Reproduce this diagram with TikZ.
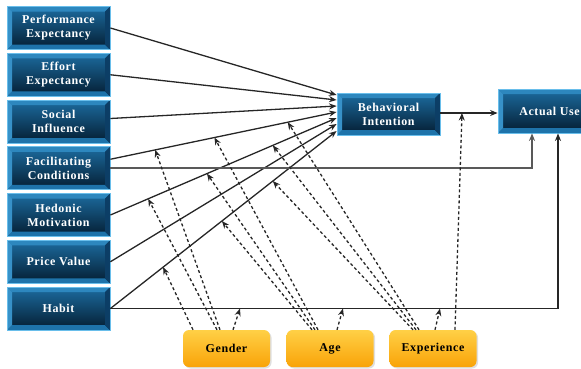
\documentclass[tikz,border=0pt]{standalone}
\usepackage{fontspec}
\setmainfont{Liberation Serif}
\newfontfamily\boxfont[LetterSpace=5]{Liberation Serif}
\usetikzlibrary{positioning}
\usetikzlibrary{arrows.meta,shadows}
\usetikzlibrary{calc}

\definecolor{facetop}{RGB}{28,108,160}
\definecolor{facebot}{RGB}{4,28,48}
\definecolor{bevtop}{RGB}{45,135,190}
\definecolor{bevbot}{RGB}{30,115,170}
\definecolor{bevleft}{RGB}{55,145,200}
\definecolor{bevright}{RGB}{12,62,102}
\definecolor{rimblue}{RGB}{105,190,235}
\definecolor{modtop}{RGB}{255,208,70}
\definecolor{modbot}{RGB}{249,163,8}

\tikzset{
  bevel/.style={path picture={
    \coordinate (nw) at (path picture bounding box.north west);
    \coordinate (ne) at (path picture bounding box.north east);
    \coordinate (sw) at (path picture bounding box.south west);
    \coordinate (se) at (path picture bounding box.south east);
    \fill[bevtop] (nw) -- (ne) -- ([shift={(-5pt,-5pt)}]ne) -- ([shift={(5pt,-5pt)}]nw) -- cycle;
    \fill[bevbot] (sw) -- (se) -- ([shift={(-5pt,5pt)}]se) -- ([shift={(5pt,5pt)}]sw) -- cycle;
    \fill[bevleft] (nw) -- (sw) -- ([shift={(5pt,5pt)}]sw) -- ([shift={(5pt,-5pt)}]nw) -- cycle;
    \fill[bevright] (ne) -- (se) -- ([shift={(-5pt,5pt)}]se) -- ([shift={(-5pt,-5pt)}]ne) -- cycle;
  }},
  construct/.style={bevel, draw=rimblue, line width=0.8pt, top color=facetop, bottom color=facebot,
    minimum width=103pt, minimum height=43pt, inner sep=0pt, align=center, text=white,
    font={\boxfont\bfseries\fontsize{12}{14}\selectfont}},
  moderator/.style={rounded corners=6pt, top color=modtop, bottom color=modbot,
    minimum width=87pt, minimum height=37pt, inner sep=0pt,
    drop shadow={opacity=0.25, shadow xshift=1.5pt, shadow yshift=-1.5pt},
    font={\boxfont\bfseries\fontsize{12}{14}\selectfont}},
  link/.style={->, line width=1.3pt, black!85},
  mod/.style={->, line width=1.3pt, black!85, dash pattern=on 3pt off 2.5pt}
}

\begin{document}
\begin{tikzpicture}[x=1pt, y=-1pt, >={Stealth[length=7.5pt,width=6pt]}]
  \useasboundingbox (0,0) rectangle (581,368);
  \clip (0,0) rectangle (581,368);

 %constructs
    \def\dy{46.75};
    \foreach \i/\name/\txt in {0/pe/{Performance\\Expectancy}, 1/ee/{Effort\\Expectancy}, 2/si/{Social\\Influence}, 3/fc/{Facilitating\\Conditions}, 4/hm/{Hedonic\\Motivation}, 5/pv/{Price Value}, 6/ht/{Habit}} {
         \node[construct] (\name) at (58.5, 28+\i*\dy) {\txt};
    }
    \node[construct, minimum height=42pt] (bi) at (388.5,114) {Behavioral\\Intention};
    \node[construct, minimum height=44pt] (au) at (549.5,111) {Actual Use};

 %moderators
    \node[moderator] (gender) at (226.5,348.5) {Gender};
    \node[moderator] (age) at (330,348.5) {Age};
    \node[moderator] (exp) at (433,348.5) {Experience};

 %paths to BI
    \draw[link] (pe.east) -- ([yshift=19pt]bi.west);
    \draw[link] (ee.east) -- ([yshift=14pt]bi.west);
    \draw[link] ([yshift=3pt]si.east) -- ([yshift=8pt]bi.west);
    \draw[link] ([yshift=9pt]fc.east) -- coordinate[pos=0.198] (fcG) coordinate[pos=0.46] (fcA) coordinate[pos=0.784] (fcE) ([yshift=2pt]bi.west);
    \draw[link] (hm.east) -- coordinate[pos=0.167] (hmG) coordinate[pos=0.427] (hmA) coordinate[pos=0.718] (hmE) ([yshift=-4pt]bi.west);
    \draw[link] (pv.east) -- ([yshift=-10pt]bi.west);
    \draw[link] (ht.east) -- coordinate[pos=0.233] (htG) coordinate[pos=0.493] (htA) coordinate[pos=0.718] (htE) ([yshift=-17pt]bi.west);

 %paths to use
    \draw[link] ([yshift=1pt]bi.east) -- ([yshift=1pt]bi.east -| au.west);
    \draw[link, black!65, line width=1.6pt] (fc.east) -| ([xshift=-17.5pt]au.south);
    \draw[link] (ht.east) -| ([xshift=8.5pt]au.south);

 %gender
    \draw[mod] ([xshift=-33.5pt]gender.north) -- (htG);
    \draw[mod] ([xshift=-9.5pt]gender.north) -- (hmG);
    \draw[mod] ([xshift=-6.5pt]gender.north) -- (fcG);
    \draw[mod] ([xshift=6.5pt]gender.north) -- ([xshift=13.5pt]gender.north |- ht.east);
 %age
    \draw[mod] ([xshift=-18pt]age.north) -- (htA);
    \draw[mod] ([xshift=-15pt]age.north) -- (hmA);
    \draw[mod] ([xshift=-12pt]age.north) -- (fcA);
    \draw[mod] ([xshift=7pt]age.north) -- ([xshift=13pt]age.north |- ht.east);
 %experience
    \draw[mod] ([xshift=-20pt]exp.north) -- (htE);
    \draw[mod] ([xshift=-17pt]exp.north) -- (hmE);
    \draw[mod] ([xshift=-14pt]exp.north) -- (fcE);
    \draw[mod] ([xshift=2pt]exp.north) -- ([xshift=7pt]exp.north |- ht.east);
    \draw[mod] ([xshift=22pt]exp.north) -- ([xshift=29pt,yshift=1pt]exp.north |- bi.east);
\end{tikzpicture}
\end{document}
